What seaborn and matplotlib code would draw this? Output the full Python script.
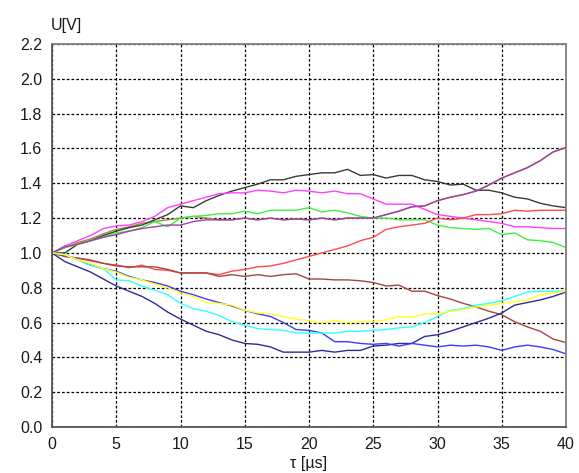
import numpy as np
import pandas as pd
import matplotlib
matplotlib.use("Agg")
import matplotlib.pyplot as plt
import seaborn as sns

t_us = list(range(0, 41))

black = [1.00, 1.00, 1.05, 1.07, 1.10, 1.125, 1.145, 1.16, 1.19, 1.22, 1.27,
         1.26, 1.30, 1.33, 1.355, 1.375, 1.395, 1.42, 1.42, 1.44, 1.45,
         1.46, 1.46, 1.48, 1.445, 1.45, 1.43, 1.445, 1.445, 1.42, 1.41,
         1.39, 1.395, 1.36, 1.36, 1.345, 1.32, 1.31, 1.285, 1.27, 1.26]
magenta = [1.00, 1.04, 1.07, 1.10, 1.14, 1.155, 1.16, 1.18, 1.21, 1.26, 1.28,
           1.30, 1.32, 1.34, 1.345, 1.345, 1.36, 1.355, 1.345, 1.36, 1.355,
           1.345, 1.355, 1.34, 1.34, 1.31, 1.28, 1.28, 1.28, 1.25, 1.22,
           1.21, 1.20, 1.19, 1.18, 1.17, 1.15, 1.15, 1.145, 1.14, 1.14]
green = [1.00, 1.03, 1.05, 1.07, 1.09, 1.115, 1.125, 1.145, 1.18, 1.15, 1.20,
         1.21, 1.215, 1.225, 1.225, 1.24, 1.225, 1.245, 1.245, 1.245, 1.26,
         1.235, 1.245, 1.23, 1.21, 1.20, 1.20, 1.19, 1.19, 1.19, 1.16,
         1.145, 1.14, 1.135, 1.14, 1.105, 1.115, 1.075, 1.07, 1.06, 1.03]
purple = [1.00, 1.035, 1.05, 1.07, 1.09, 1.105, 1.125, 1.14, 1.15, 1.16, 1.16,
          1.18, 1.19, 1.19, 1.19, 1.20, 1.19, 1.20, 1.19, 1.195, 1.19,
          1.20, 1.19, 1.20, 1.20, 1.20, 1.22, 1.24, 1.265, 1.27, 1.30,
          1.32, 1.335, 1.355, 1.39, 1.43, 1.46, 1.49, 1.53, 1.58, 1.605]
olive = [1.00, 1.03, 1.06, 1.08, 1.11, 1.135, 1.15, 1.17, 1.18, 1.19, 1.20,
         1.21, 1.20, 1.19, 1.19, 1.20, 1.19, 1.20, 1.19, 1.195, 1.19,
         1.20, 1.19, 1.20, 1.20, 1.20, 1.22, 1.24, 1.265, 1.27, 1.30,
         1.32, 1.335, 1.355, 1.39, 1.43, 1.46, 1.49, 1.53, 1.58, 1.605]
red = [1.00, 0.98, 0.97, 0.96, 0.94, 0.93, 0.915, 0.93, 0.905, 0.90, 0.885,
       0.885, 0.885, 0.875, 0.895, 0.905, 0.92, 0.925, 0.94, 0.96, 0.98,
       1.00, 1.02, 1.04, 1.07, 1.09, 1.135, 1.15, 1.16, 1.17, 1.20,
       1.19, 1.20, 1.22, 1.22, 1.225, 1.245, 1.24, 1.245, 1.245, 1.245]
brown = [1.00, 0.98, 0.97, 0.955, 0.94, 0.925, 0.92, 0.92, 0.92, 0.905, 0.885,
         0.885, 0.885, 0.865, 0.875, 0.865, 0.875, 0.865, 0.875, 0.88, 0.85,
         0.85, 0.845, 0.845, 0.84, 0.83, 0.81, 0.815, 0.78, 0.78, 0.755,
         0.735, 0.71, 0.69, 0.665, 0.645, 0.605, 0.575, 0.55, 0.505, 0.485]
yellow = [1.00, 0.99, 0.96, 0.94, 0.91, 0.89, 0.86, 0.845, 0.82, 0.80, 0.77,
          0.75, 0.715, 0.71, 0.70, 0.67, 0.655, 0.65, 0.635, 0.62, 0.61,
          0.60, 0.61, 0.60, 0.605, 0.605, 0.615, 0.635, 0.63, 0.65, 0.65,
          0.665, 0.675, 0.69, 0.70, 0.71, 0.72, 0.73, 0.76, 0.77, 0.78]
cyan = [1.00, 0.99, 0.96, 0.93, 0.91, 0.845, 0.84, 0.81, 0.785, 0.76, 0.71,
        0.68, 0.665, 0.64, 0.605, 0.585, 0.565, 0.56, 0.555, 0.54, 0.54,
        0.54, 0.54, 0.55, 0.55, 0.555, 0.56, 0.57, 0.575, 0.60, 0.635,
        0.67, 0.68, 0.70, 0.71, 0.725, 0.75, 0.775, 0.78, 0.78, 0.78]
blue = [1.00, 0.99, 0.96, 0.93, 0.91, 0.895, 0.865, 0.845, 0.83, 0.81, 0.78,
        0.76, 0.735, 0.715, 0.695, 0.67, 0.65, 0.635, 0.60, 0.56, 0.555,
        0.54, 0.49, 0.49, 0.48, 0.475, 0.48, 0.465, 0.48, 0.47, 0.46,
        0.47, 0.465, 0.47, 0.46, 0.44, 0.46, 0.47, 0.46, 0.445, 0.42]
navy = [1.00, 0.95, 0.92, 0.89, 0.85, 0.81, 0.78, 0.75, 0.71, 0.66, 0.62,
        0.585, 0.55, 0.53, 0.50, 0.48, 0.475, 0.46, 0.43, 0.43, 0.43,
        0.44, 0.43, 0.44, 0.44, 0.465, 0.47, 0.48, 0.48, 0.52, 0.53,
        0.55, 0.575, 0.60, 0.625, 0.655, 0.70, 0.715, 0.73, 0.75, 0.775]

series = {
    "olive": olive, "black": black, "magenta": magenta, "green": green,
    "purple": purple, "red": red, "brown": brown, "navy": navy,
    "blue": blue, "cyan": cyan, "yellow": yellow,
}
colors = {
    "olive": "#9c8c3c", "black": "#3a3a3a", "magenta": "#ff40ff",
    "green": "#40f040", "purple": "#a040a8", "red": "#ff4a4a",
    "brown": "#a8443c", "navy": "#2c2c96", "blue": "#3c3cff",
    "cyan": "#30ffff", "yellow": "#ffff20",
}

x_ticks = [0, 5, 10, 15, 20, 25, 30, 35, 40]
y_ticks = [0.0, 0.2, 0.4, 0.6, 0.8, 1.0, 1.2, 1.4, 1.6, 1.8, 2.0, 2.2]

rows = []
for name, vals in series.items():
    for tt, v in zip(t_us, vals):
        rows.append({"t": tt, "U": v, "run": name})
df = pd.DataFrame(rows)

sns.set_style("white")
plt.rcParams["font.family"] = ["Liberation Sans", "DejaVu Sans"]

fig = plt.figure(figsize=(5.79, 4.73), dpi=100)
ax = fig.add_axes([52 / 579, 1 - 427 / 473, (566 - 52) / 579, (427 - 44) / 473])

ax.grid(True, color="black", linestyle=(0, (2.2, 1.6)), linewidth=0.9, zorder=0)
ax.set_axisbelow(True)

sns.lineplot(data=df, x="t", y="U", hue="run", hue_order=list(series.keys()),
             palette=colors, legend=False, sort=False, estimator=None,
             linewidth=1.0, ax=ax)

ax.set_xlim(0, 40)
ax.set_ylim(0, 2.2)
ax.set_xticks(x_ticks)
ax.set_yticks(y_ticks)
ax.set_yticklabels([f"{v:.1f}" for v in y_ticks])
ax.tick_params(axis="both", length=0, labelsize=11.5, colors="#1a1a1a", pad=7)
ax.tick_params(axis="y", pad=7)
ax.set_xlabel("")
ax.set_ylabel("")

for side in ["left", "bottom"]:
    ax.spines[side].set_color("#555555")
    ax.spines[side].set_linewidth(1.3)
for side in ["top", "right"]:
    ax.spines[side].set_color("#808080")
    ax.spines[side].set_linewidth(1.3)

fig.text(51 / 579, 1 - 30 / 473, "U[V]", fontsize=11.5, color="#1a1a1a",
         ha="left", va="baseline")
fig.text((52 + 566) / 2 / 579, 1 - 463 / 473, "τ [µs]", fontsize=11.5,
         color="#1a1a1a", ha="center", va="center")

fig.savefig("out.png", dpi=100)
